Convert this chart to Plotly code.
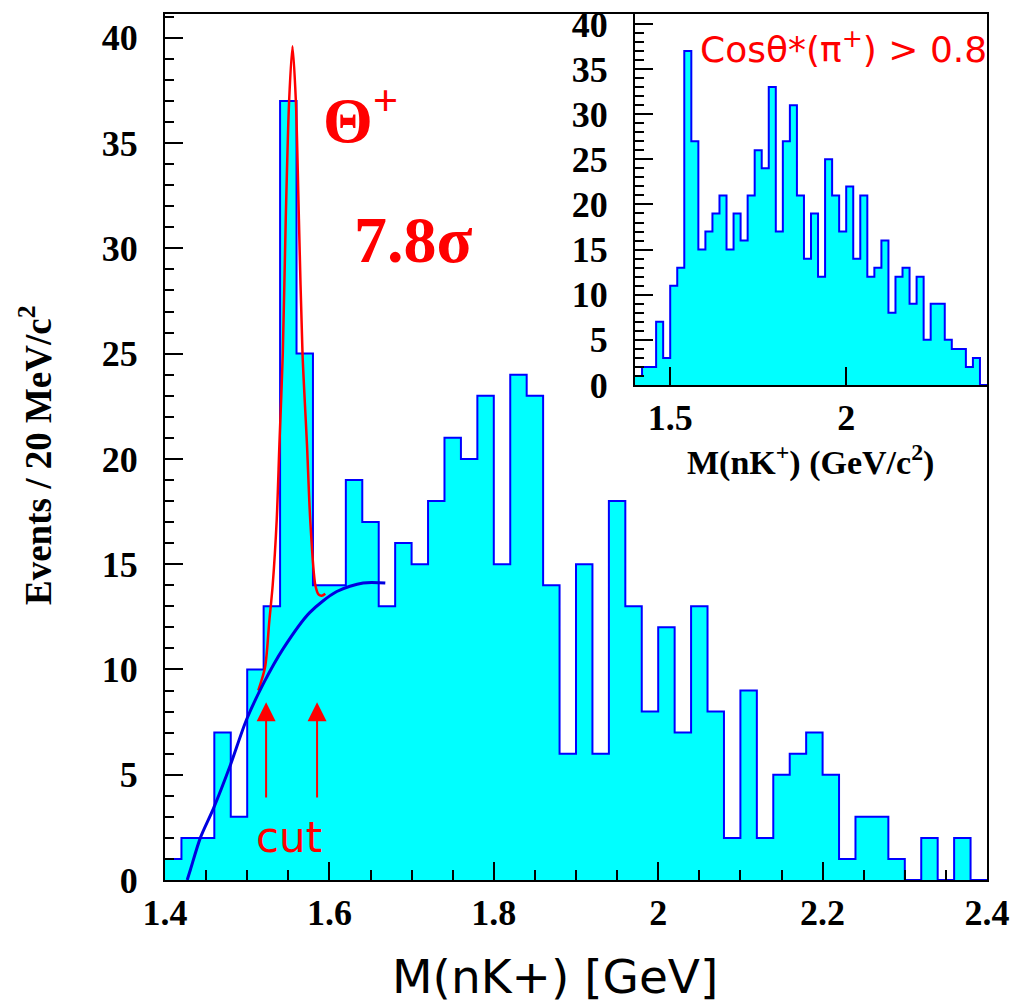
import numpy as np
import plotly.graph_objects as go

# ---- data -------------------------------------------------------------
BIN_LO, BIN_HI, BIN_W = 1.40, 2.40, 0.02

# M(nK+) spectrum, events per 20 MeV bin
main_counts = [1, 2, 2, 7, 3, 10, 13, 37, 25, 14,
               14, 19, 17, 13, 16, 15, 18, 21, 20, 23,
               15, 24, 23, 14, 6, 15, 6, 18, 13, 8,
               12, 7, 13, 8, 2, 9, 2, 5, 6, 7,
               5, 1, 3, 3, 1, 0, 2, 0, 2, 0]

# inset: same spectrum with the Cos(theta*) > 0.8 selection
inset_counts = [1, 2, 2, 7, 3, 11, 13, 37, 27, 15,
                17, 19, 21, 15, 19, 16, 21, 26, 24, 33,
                17, 27, 31, 21, 14, 19, 12, 25, 21, 17,
                22, 14, 21, 12, 13, 16, 8, 12, 13, 9,
                12, 5, 9, 9, 5, 4, 4, 2, 3, 0]

# background fit curve (sampled)
bg_x = [1.427, 1.431, 1.443, 1.459, 1.479, 1.499, 1.520, 1.544, 1.576, 1.609, 1.641, 1.668]
bg_y = [0.0, 0.5, 2.0, 3.4, 5.4, 7.6, 9.35, 11.0, 12.7, 13.7, 14.11, 14.11]

# signal + background fit curve (sampled)
sig_x = [1.5135, 1.5217, 1.5269, 1.5310, 1.5359, 1.5392, 1.5433, 1.5469, 1.5510,
         1.5551, 1.5592, 1.5629, 1.5673, 1.5727, 1.5767, 1.5829, 1.5870, 1.5906, 1.5950]
sig_y = [9.0, 10.1, 12.3, 14.0, 17.1, 20.7, 25.0, 31.4, 37.0,
         39.6, 37.0, 31.4, 25.0, 20.7, 17.1, 14.0, 13.55, 13.5, 13.6]

# mass-window cut positions
cut_lo, cut_hi = 1.523, 1.585
arrow_tail, arrow_tip = 3.85, 8.44

main_xticks = [1.4, 1.6, 1.8, 2.0, 2.2, 2.4]
main_xticktext = ["1.4", "1.6", "1.8", "2", "2.2", "2.4"]
yticks = [0, 5, 10, 15, 20, 25, 30, 35, 40]
inset_xticks = [1.5, 2.0]
inset_xticktext = ["1.5", "2"]

# ---- figure -----------------------------------------------------------
W, H = 1012, 1003
edges = np.round(np.arange(BIN_LO, BIN_HI + BIN_W / 2, BIN_W), 4)

HIST_FILL = "#00ffff"
HIST_LINE = "#0000ff"
SERIF = "Liberation Serif"
HAND = "DejaVu Sans"


def px_x(p):
    return p / W


def px_y(p):
    return 1 - p / H


fig = go.Figure()

fig.add_trace(go.Scatter(
    x=edges, y=main_counts + [main_counts[-1]],
    mode="lines", line=dict(shape="hv", color=HIST_LINE, width=2),
    fill="tozeroy", fillcolor=HIST_FILL, xaxis="x", yaxis="y",
    hoverinfo="skip", showlegend=False))

fig.add_trace(go.Scatter(
    x=sig_x, y=sig_y, mode="lines",
    line=dict(shape="spline", smoothing=0.8, color="#ff0000", width=2.5),
    xaxis="x", yaxis="y", hoverinfo="skip", showlegend=False))

fig.add_trace(go.Scatter(
    x=bg_x, y=bg_y, mode="lines",
    line=dict(shape="spline", smoothing=0.8, color="#0000e0", width=3),
    xaxis="x", yaxis="y", hoverinfo="skip", showlegend=False))

fig.add_trace(go.Scatter(
    x=edges, y=inset_counts + [inset_counts[-1]],
    mode="lines", line=dict(shape="hv", color=HIST_LINE, width=2),
    fill="tozeroy", fillcolor=HIST_FILL, xaxis="x2", yaxis="y2",
    hoverinfo="skip", showlegend=False))

tickfont = dict(family=SERIF, size=36, color="black", weight="bold")
common_axis = dict(showgrid=False, zeroline=False, showline=True, linecolor="black",
                   linewidth=2, mirror=True, ticks="inside", tickcolor="black",
                   tickwidth=2, ticklen=18, tickfont=tickfont, automargin=False)

fig.update_layout(
    width=W, height=H, margin=dict(l=0, r=0, t=0, b=0, autoexpand=False),
    paper_bgcolor="white", plot_bgcolor="white",
    xaxis=dict(domain=[px_x(165), px_x(987)], range=[BIN_LO, BIN_HI], anchor="y",
               tickvals=main_xticks, ticktext=main_xticktext,
               minor=dict(tick0=1.4, dtick=0.05, ticks="inside", ticklen=10,
                          tickwidth=2, tickcolor="black"),
               ticklabelstandoff=0, **common_axis),
    yaxis=dict(domain=[px_y(880), px_y(14)], range=[0, 41.13], anchor="x",
               tickvals=yticks, ticktext=[str(v) for v in yticks],
               minor=dict(tick0=0, dtick=1, ticks="inside", ticklen=9,
                          tickwidth=2, tickcolor="black"),
               ticklabelstandoff=18, **common_axis),
    xaxis2=dict(domain=[px_x(635), px_x(987)], range=[BIN_LO, BIN_HI], anchor="y2",
                tickvals=inset_xticks, ticktext=inset_xticktext,
                ticklabelstandoff=0, **common_axis),
    yaxis2=dict(domain=[px_y(385), px_y(14)], range=[0, 41.1], anchor="x2",
                tickvals=yticks, ticktext=[str(v) for v in yticks],
                minor=dict(tick0=0, dtick=1, ticks="inside", ticklen=9,
                           tickwidth=2, tickcolor="black"),
                ticklabelstandoff=18, **common_axis),
)

annotations = [
    # axis titles
    dict(text="Events / 20 MeV/c<sup>2</sup>", xref="paper", yref="paper",
         x=px_x(36), y=px_y(455), xanchor="center", yanchor="middle",
         textangle=-90, showarrow=False,
         font=dict(family=SERIF, size=37, color="black", weight="bold")),
    dict(text="M(nK+) [GeV]", xref="paper", yref="paper",
         x=px_x(555), y=px_y(976), xanchor="center", yanchor="middle",
         showarrow=False,
         font=dict(family=HAND, size=47, color="black")),
    dict(text="M(nK<sup>+</sup>) (GeV/c<sup>2</sup>)", xref="paper", yref="paper",
         x=px_x(810), y=px_y(460), xanchor="center", yanchor="middle",
         showarrow=False,
         font=dict(family=SERIF, size=34, color="black", weight="bold")),
    # labels on the main spectrum
    dict(text="\u0398<sup>+</sup>", xref="x", yref="y", x=1.590, y=36.3,
         xanchor="left", yanchor="middle", showarrow=False,
         font=dict(family=SERIF, size=64, color="#ff0000", weight="bold")),
    dict(text="7.8\u03c3", xref="x", yref="y", x=1.627, y=30.4,
         xanchor="left", yanchor="middle", showarrow=False,
         font=dict(family=SERIF, size=66, color="#ff0000", weight="bold")),
    dict(text="cut", xref="x", yref="y", x=1.551, y=2.0,
         xanchor="center", yanchor="middle", showarrow=False,
         font=dict(family=HAND, size=42, color="#ff0000")),
    # inset label
    dict(text="Cos\u03b8*(\u03c0<sup>+</sup>) > 0.8", xref="x2", yref="y2",
         x=1.578, y=37.4, xanchor="left", yanchor="middle", showarrow=False,
         font=dict(family=HAND, size=36, color="#ff0000")),
]

for cx in (cut_lo, cut_hi):
    annotations.append(dict(
        x=cx, y=arrow_tip, ax=cx, ay=arrow_tail, xref="x", yref="y",
        axref="x", ayref="y", text="", showarrow=True, arrowhead=2,
        arrowsize=1.9, arrowwidth=2, arrowcolor="#ff0000"))

fig.update_layout(annotations=annotations)

fig.write_html("out.html")
